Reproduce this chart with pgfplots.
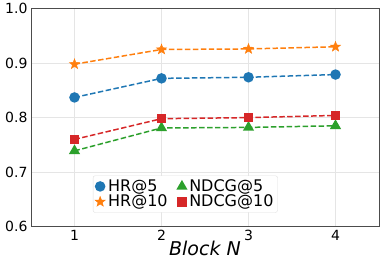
\documentclass[border=0pt]{standalone}
\usepackage{fontspec}
\setmainfont{DejaVu Sans}
\usepackage{pgfplots}
\pgfplotsset{compat=1.18}
\definecolor{tblue}{HTML}{1F77B4}
\definecolor{torange}{HTML}{FF7F0E}
\definecolor{tgreen}{HTML}{2CA02C}
\definecolor{tred}{HTML}{D62728}
\pgfdeclareplotmark{fstar}{%
  \pgfpathmoveto{\pgfpointpolar{90}{\pgfplotmarksize}}%
  \pgfpathlineto{\pgfpointpolar{126}{0.42\pgfplotmarksize}}%
  \pgfpathlineto{\pgfpointpolar{162}{\pgfplotmarksize}}%
  \pgfpathlineto{\pgfpointpolar{198}{0.42\pgfplotmarksize}}%
  \pgfpathlineto{\pgfpointpolar{234}{\pgfplotmarksize}}%
  \pgfpathlineto{\pgfpointpolar{270}{0.42\pgfplotmarksize}}%
  \pgfpathlineto{\pgfpointpolar{306}{\pgfplotmarksize}}%
  \pgfpathlineto{\pgfpointpolar{342}{0.42\pgfplotmarksize}}%
  \pgfpathlineto{\pgfpointpolar{18}{\pgfplotmarksize}}%
  \pgfpathlineto{\pgfpointpolar{54}{0.42\pgfplotmarksize}}%
  \pgfpathclose
  \pgfusepathqfillstroke}
\begin{document}
\begin{tikzpicture}
\begin{axis}[
  at={(0,0)}, anchor=south west,
  scale only axis,
  width=348bp, height=218bp,
  xmin=0.5, xmax=4.5, ymin=0.6, ymax=1.0,
  xtick={1,2,3,4}, ytick={0.6,0.7,0.8,0.9,1.0},
  yticklabel style={/pgf/number format/fixed,/pgf/number format/fixed zerofill,/pgf/number format/precision=1},
  /pgf/number format/assume math mode=true,
  tick label style={font=\fontsize{14bp}{16bp}\selectfont},
  tick style={draw=none},
  grid=major,
  grid style={draw=gray!20, line width=0.6pt},
  axis line style={draw=black!70, line width=1pt},
  xlabel={\itshape Block N},
  xlabel style={font=\fontsize{19bp}{21bp}\selectfont, yshift=6bp},
  legend columns=2,
  legend style={at={(0.178,0.064)}, anchor=south west, font=\fontsize{16bp}{17bp}\selectfont, draw=gray!25, rounded corners=2pt, inner sep=2pt, row sep=-2pt, /tikz/every odd column/.append style={column sep=1pt}, /tikz/every even column/.append style={column sep=8pt}},
  legend cell align=left,
  legend image code/.code={\draw[#1] plot[only marks] coordinates {(0.2cm,0cm)};},
  every axis plot/.append style={line width=1.5pt, dashed, dash pattern=on 5.5pt off 2.5pt},
]
\addplot[color=tblue, mark=*, mark options={solid, fill=tblue, draw=tblue}, mark size=4.5pt] coordinates {(1,0.837) (2,0.872) (3,0.874) (4,0.879)};
\addlegendentry{HR@5}
\addplot[color=tgreen, mark=triangle*, mark options={solid, fill=tgreen, draw=tgreen}, mark size=5pt] coordinates {(1,0.739) (2,0.781) (3,0.782) (4,0.785)};
\addlegendentry{NDCG@5}
\addplot[color=torange, mark=fstar, mark options={solid, fill=torange, draw=torange, line width=0.5pt}, mark size=5.3pt] coordinates {(1,0.898) (2,0.925) (3,0.926) (4,0.930)};
\addlegendentry{HR@10}
\addplot[color=tred, mark=square*, mark options={solid, fill=tred, draw=tred}, mark size=4pt] coordinates {(1,0.760) (2,0.798) (3,0.800) (4,0.804)};
\addlegendentry{NDCG@10}
\end{axis}
\path (-31bp,-37bp) rectangle (360bp,226bp);
\end{tikzpicture}
\end{document}
